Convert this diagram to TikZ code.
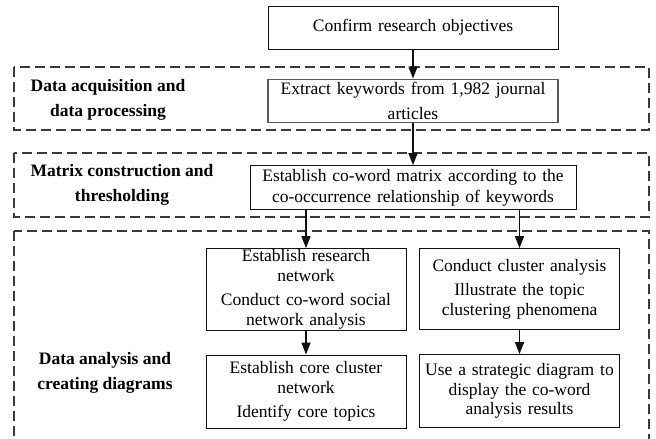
\documentclass[tikz,border=0pt]{standalone}
\usepackage{fontspec}
\setmainfont{Liberation Serif}
\usetikzlibrary{arrows.meta, positioning}
\definecolor{ink}     {HTML}{111111}
\definecolor{inkgray} {HTML}{5A5A5A}
\definecolor{dashgray}{HTML}{3A3A3A}
\newcommand{\boxfont}{\fontsize{17.5pt}{19.5pt}\selectfont}
\tikzset{
  box/.style     = {draw=ink, line width=1pt, text width=284pt,
                    minimum height=43pt, inner xsep=3pt, inner ysep=1pt,
                    align=center, font=\boxfont},
  narrow/.style  = {box, text width=194pt},
  graybox/.style = {box, draw=inkgray, line width=1.6pt},
  stage/.style   = {draw=dashgray, line width=1.2pt, dash pattern=on 10pt off 5pt},
  arr/.style     = {-{Triangle[length=12pt, width=9pt]}, line width=1.4pt, ink},
  labl/.style    = {font=\bfseries\fontsize{17.5pt}{25pt}\selectfont, align=center},
}
\begin{document}
\begin{tikzpicture}[x=1pt, y=-1pt]
  \fill[white] (0,0) rectangle (656,439);
  \path[use as bounding box, clip] (0,0) rectangle (656,439);

  % stage frames
  \draw[stage] (14,67)  rectangle (649,130);
  \draw[stage] (14,153) rectangle (649,217);
  \draw[stage] (14,231) rectangle (649,470);

  \node[labl] (acq)  at (108,99.5) {Data acquisition and\\data processing};
  \node[labl] (mat)  at (122,185)  {Matrix construction and\\thresholding};
  \node[labl] (ana)  at (105,373) {Data analysis and\\creating diagrams};

  \node[box] (goal) at (413,27.5) {Confirm research objectives};

  \node[graybox, below=29pt of goal] (extract)
    {Extract keywords from 1,982 journal\\[5pt]articles};

  \node[box, text width=320pt, minimum height=44pt, below=42pt of extract] (cowm)
    {Establish co-word matrix according to the\\[2pt]co-occurrence relationship of keywords};

  \node[narrow, minimum height=81pt, below=38pt of cowm.south, xshift=-107pt] (net)
    {Establish research\\network\\[5pt]Conduct co-word social\\network analysis};

  \node[narrow, minimum height=81pt, below=38pt of cowm.south, xshift=106.5pt] (clus)
    {Conduct cluster analysis\\[5pt]Illustrate the topic\\clustering phenomena};

  \node[narrow, minimum height=73pt, below=24pt of net] (core)
    {Establish core cluster\\network\\[5pt]Identify core topics};

  \node[narrow, minimum height=73pt, below=24pt of clus] (strat)
    {Use a strategic diagram to\\display the co-word\\analysis results};

  \foreach \a/\b in {goal/extract, extract/cowm, net/core, clus/strat}
    \draw[arr] (\a) -- (\b);
  \draw[arr] (cowm.south -| net.north)  -- (net.north);
  \draw[arr] (cowm.south -| clus.north) -- (clus.north);

\end{tikzpicture}
\end{document}
